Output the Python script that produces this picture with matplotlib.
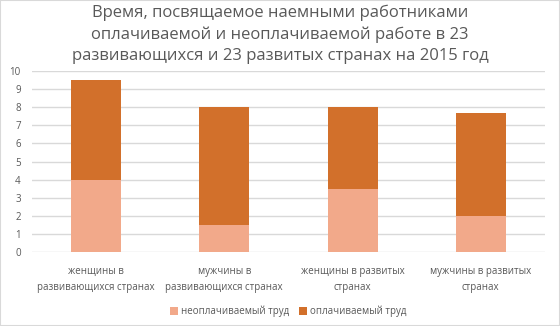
import numpy as np
import matplotlib.pyplot as plt

plt.rcParams['font.family'] = ['Open Sans', 'DejaVu Sans']

categories = ["женщины в\nразвивающихся странах", "мужчины в\nразвивающихся странах",
              "женщины в развитых\nстранах", "мужчины в развитых\nстранах"]
unpaid = [4.0, 1.5, 3.5, 2.0]
paid = [5.5, 6.5, 4.5, 5.7]
series_names = ["неоплачиваемый труд", "оплачиваемый труд"]

fig = plt.figure(figsize=(5.6, 3.26), dpi=100)
ax = fig.add_axes([0.057, 0.227, 0.916, 0.555])

x = np.arange(len(categories))
ax.bar(x, unpaid, 0.39, color="#F2A98A", label=series_names[0], zorder=3)
ax.bar(x, paid, 0.39, bottom=unpaid, color="#D2702B", label=series_names[1], zorder=3)

ax.set_ylim(0, 10)
ax.set_xlim(-0.5, 3.5)
ax.set_yticks(range(0, 11))
ax.yaxis.grid(True, color="#D9D9D9", linewidth=1, zorder=0)
for s in ax.spines.values():
    s.set_visible(False)
ax.tick_params(axis='y', length=0, labelsize=7, labelcolor="#595959", pad=8)
ax.tick_params(axis='x', length=0, labelsize=7, labelcolor="#595959", pad=10)
ax.set_xticks(x)
ax.set_xticklabels(categories, linespacing=1.6)

fig.suptitle("Время, посвящаемое наемными работниками\nоплачиваемой и неоплачиваемой работе в 23\nразвивающихся и 23 развитых странах на 2015 год",
             y=0.985, fontsize=12, color="#595959", linespacing=1.4)

ax.legend(loc="center", bbox_to_anchor=(0.5, -0.33), ncol=2, frameon=False,
          fontsize=7, labelcolor="#595959", handlelength=0.8, handleheight=0.8,
          columnspacing=1.0, handletextpad=0.3)

fig.patches.append(plt.Rectangle((0, 0), 1, 1, transform=fig.transFigure,
                                 fill=False, edgecolor="#D9D9D9", linewidth=1.5))

fig.savefig("out.png", dpi=100)
